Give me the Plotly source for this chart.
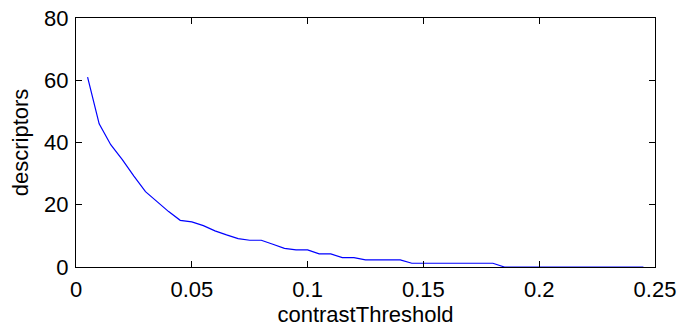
import plotly.graph_objects as go

contrast_threshold = [0.005, 0.010, 0.015, 0.020, 0.025, 0.030, 0.035, 0.040, 0.045, 0.050,
                      0.055, 0.060, 0.065, 0.070, 0.075, 0.080, 0.085, 0.090, 0.095, 0.100,
                      0.105, 0.110, 0.115, 0.120, 0.125, 0.130, 0.135, 0.140, 0.145, 0.150,
                      0.155, 0.160, 0.165, 0.170, 0.175, 0.180, 0.185, 0.190, 0.195, 0.200,
                      0.205, 0.210, 0.215, 0.220, 0.225, 0.230, 0.235, 0.240, 0.245]
descriptors = [61.0, 46.0, 39.3, 34.5, 29.2, 24.2, 21.0, 17.8, 15.0, 14.5,
               13.3, 11.6, 10.3, 9.1, 8.6, 8.6, 7.3, 6.0, 5.5, 5.5,
               4.2, 4.2, 3.0, 3.0, 2.3, 2.3, 2.3, 2.3, 1.2, 1.2,
               1.2, 1.2, 1.2, 1.2, 1.2, 1.2, 0, 0, 0, 0,
               0, 0, 0, 0, 0, 0, 0, 0, 0]

x_ticks = [0, 0.05, 0.1, 0.15, 0.2, 0.25]
x_tick_labels = ["0", "0.05", "0.1", "0.15", "0.2", "0.25"]
y_ticks = [0, 20, 40, 60, 80]
y_tick_labels = ["0", "20", "40", "60", "80"]

fig = go.Figure()
fig.add_trace(go.Scatter(x=contrast_threshold, y=descriptors, mode="lines",
                         line=dict(color="#0000ff", width=1.2), showlegend=False))

font = dict(family="Liberation Sans, Arial, sans-serif", size=22, color="black")
axis_common = dict(showline=True, linecolor="black", linewidth=1.3, mirror="ticks",
                   ticks="inside", ticklen=6, tickwidth=1, tickcolor="black",
                   showgrid=False, zeroline=False, tickfont=font, automargin=False)

fig.update_xaxes(range=[0, 0.25], tickvals=x_ticks, ticktext=x_tick_labels,
                 ticklabelstandoff=2,
                 title=dict(text="contrastThreshold", font=font, standoff=3), **axis_common)
fig.update_yaxes(range=[0, 80], tickvals=y_ticks, ticktext=y_tick_labels,
                 ticklabelstandoff=2,
                 title=dict(text="descriptors", font=font, standoff=9), **axis_common)

fig.update_layout(width=680, height=328, margin=dict(l=76, r=25, t=18, b=61),
                  plot_bgcolor="white", paper_bgcolor="white", font=font)

fig.write_html("out.html")
